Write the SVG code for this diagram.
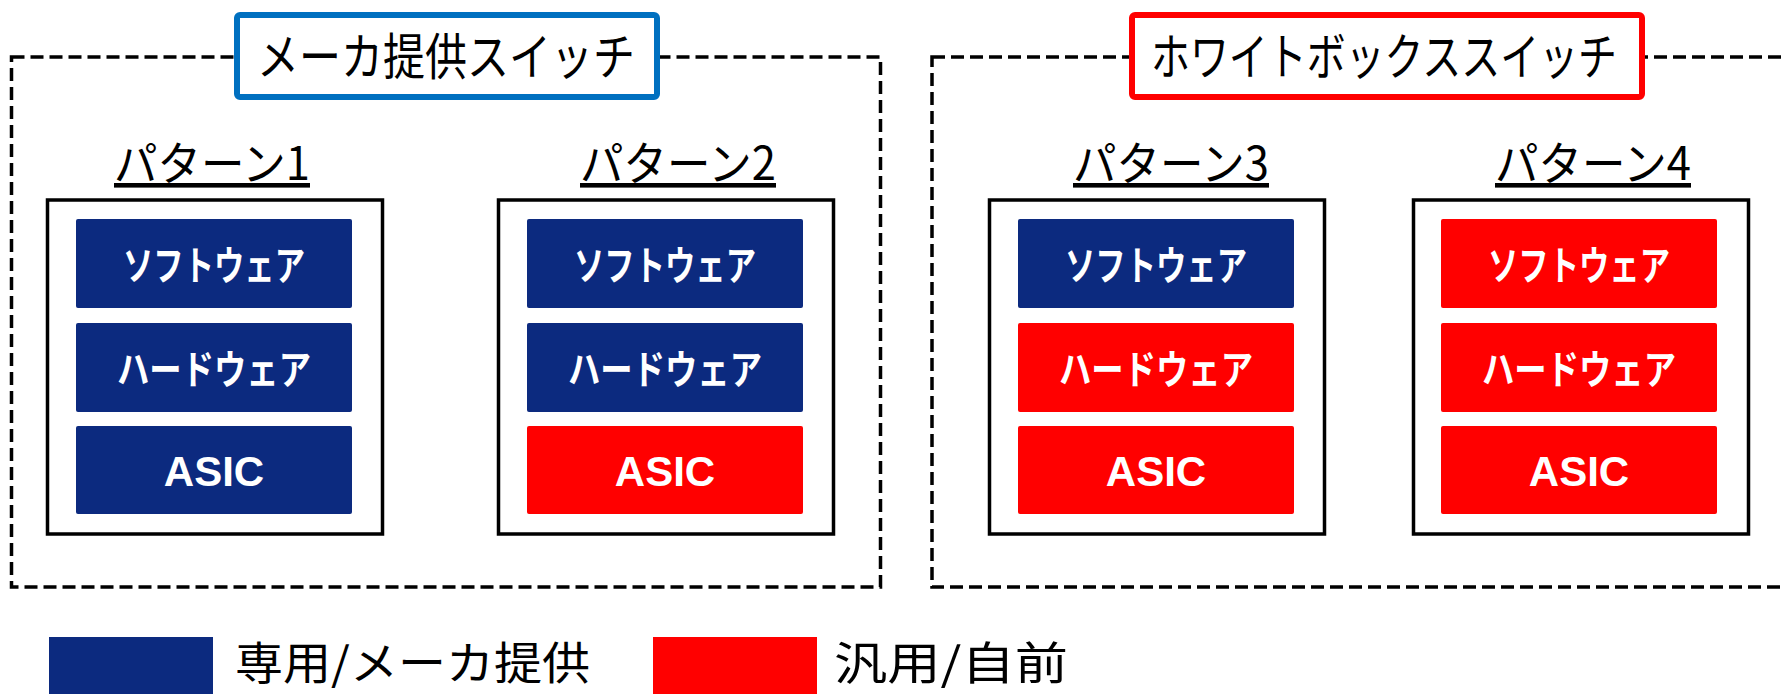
<svg xmlns="http://www.w3.org/2000/svg" width="1782" height="694" viewBox="0 0 1782 694">
<style>
.dash{fill:none;stroke:#000;stroke-width:3.5;stroke-dasharray:13 6}
.title{fill:#fff;stroke-width:6}
.tt{font-family:"Noto Sans CJK JP","Noto Sans",sans-serif;font-size:50px;fill:#000;text-anchor:middle}
.pl{font-family:"Noto Sans CJK JP","Noto Sans",sans-serif;font-size:46px;fill:#000;text-anchor:middle;text-decoration:underline}
.box{fill:#fff;stroke:#000;stroke-width:3.5}
.b{fill:#0C2A7F}
.r{fill:#FF0000}
.jt{font-family:"Noto Sans CJK JP","Noto Sans",sans-serif;font-weight:bold;font-size:40px;fill:#fff;text-anchor:middle}
.at{font-family:"Liberation Sans",Arial,sans-serif;font-weight:bold;font-size:42px;fill:#fff;text-anchor:middle}
.lg{font-family:"Noto Sans CJK JP","Noto Sans",sans-serif;font-size:45px;fill:#000}
</style>
<rect width="1782" height="694" fill="#fff"/>
<g id="group-vendor">
<rect class="dash" x="11.5" y="57" width="869" height="530"/>
<rect class="title" x="237" y="15" width="420" height="82" rx="3" stroke="#0070C0"/>
<text class="tt" x="446" y="75" textLength="378" lengthAdjust="spacingAndGlyphs">メーカ提供スイッチ</text>
</g>
<g id="group-whitebox">
<rect class="dash" x="932" y="57" width="900" height="530"/>
<rect class="title" x="1132" y="15" width="510" height="82" rx="3" stroke="#FF0000"/>
<text class="tt" x="1384" y="75" textLength="466" lengthAdjust="spacingAndGlyphs">ホワイトボックススイッチ</text>
</g>
<g id="pattern1">
<text class="pl" x="212" y="180" textLength="196" lengthAdjust="spacingAndGlyphs">パターン1</text>
<rect class="box" x="47.5" y="200" width="335" height="334"/>
<rect class="b" x="76" y="219" width="276" height="89" rx="2"/>
<text class="jt" x="214" y="280" textLength="182" lengthAdjust="spacingAndGlyphs">ソフトウェア</text>
<rect class="b" x="76" y="323" width="276" height="89" rx="2"/>
<text class="jt" x="214" y="384" textLength="194" lengthAdjust="spacingAndGlyphs">ハードウェア</text>
<rect class="b" x="76" y="426" width="276" height="88" rx="2"/>
<text class="at" x="214" y="486">ASIC</text>
</g>
<g id="pattern2">
<text class="pl" x="678" y="180" textLength="196" lengthAdjust="spacingAndGlyphs">パターン2</text>
<rect class="box" x="498.5" y="200" width="335" height="334"/>
<rect class="b" x="527" y="219" width="276" height="89" rx="2"/>
<text class="jt" x="665" y="280" textLength="182" lengthAdjust="spacingAndGlyphs">ソフトウェア</text>
<rect class="b" x="527" y="323" width="276" height="89" rx="2"/>
<text class="jt" x="665" y="384" textLength="194" lengthAdjust="spacingAndGlyphs">ハードウェア</text>
<rect class="r" x="527" y="426" width="276" height="88" rx="2"/>
<text class="at" x="665" y="486">ASIC</text>
</g>
<g id="pattern3">
<text class="pl" x="1171" y="180" textLength="196" lengthAdjust="spacingAndGlyphs">パターン3</text>
<rect class="box" x="989.5" y="200" width="335" height="334"/>
<rect class="b" x="1018" y="219" width="276" height="89" rx="2"/>
<text class="jt" x="1156" y="280" textLength="182" lengthAdjust="spacingAndGlyphs">ソフトウェア</text>
<rect class="r" x="1018" y="323" width="276" height="89" rx="2"/>
<text class="jt" x="1156" y="384" textLength="194" lengthAdjust="spacingAndGlyphs">ハードウェア</text>
<rect class="r" x="1018" y="426" width="276" height="88" rx="2"/>
<text class="at" x="1156" y="486">ASIC</text>
</g>
<g id="pattern4">
<text class="pl" x="1593" y="180" textLength="196" lengthAdjust="spacingAndGlyphs">パターン4</text>
<rect class="box" x="1413.5" y="200" width="335" height="334"/>
<rect class="r" x="1441" y="219" width="276" height="89" rx="2"/>
<text class="jt" x="1579" y="280" textLength="182" lengthAdjust="spacingAndGlyphs">ソフトウェア</text>
<rect class="r" x="1441" y="323" width="276" height="89" rx="2"/>
<text class="jt" x="1579" y="384" textLength="194" lengthAdjust="spacingAndGlyphs">ハードウェア</text>
<rect class="r" x="1441" y="426" width="276" height="88" rx="2"/>
<text class="at" x="1579" y="486">ASIC</text>
</g>
<g id="legend">
<rect class="b" x="49" y="637" width="164" height="60"/>
<text class="lg" x="235" y="680" textLength="355" lengthAdjust="spacingAndGlyphs">専用/メーカ提供</text>
<rect class="r" x="653" y="637" width="164" height="60"/>
<text class="lg" x="834" y="680" textLength="234" lengthAdjust="spacingAndGlyphs">汎用/自前</text>
</g>
<g id="connectors"></g>
</svg>
